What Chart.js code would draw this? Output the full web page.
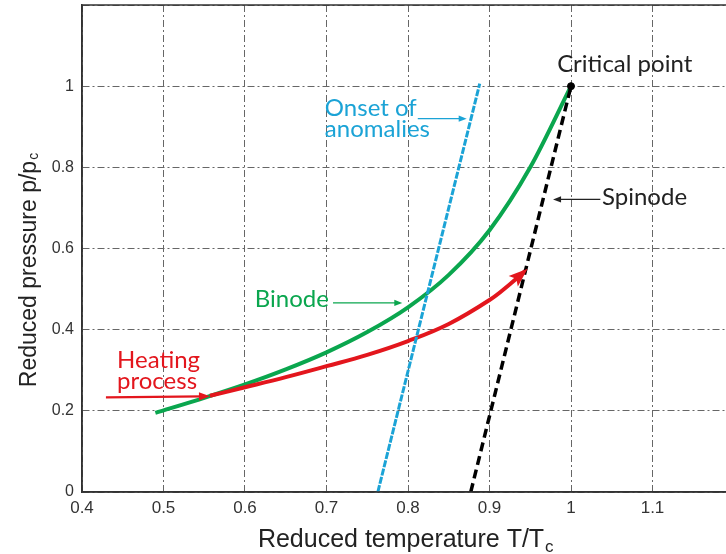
<!DOCTYPE html>
<html>
<head>
<meta charset="utf-8">
<script src="https://cdn.jsdelivr.net/npm/chart.js@4/dist/chart.umd.min.js"></script>
<style>
  html, body { margin: 0; padding: 0; background: #fff; overflow: hidden; }
  #wrap { width: 740px; height: 554px; }
</style>
</head>
<body>
<div id="wrap"><canvas id="phaseChart" width="740" height="554"></canvas></div>
<script>
// tick labels
const xTicks = [0.4, 0.5, 0.6, 0.7, 0.8, 0.9, 1, 1.1];
const yTicks = [0, 0.2, 0.4, 0.6, 0.8, 1];

// binode (green)
const binodeT = [0.49, 0.55, 0.6, 0.65, 0.7, 0.75, 0.8, 0.85, 0.9, 0.95, 1.0];
const binodeP = [0.195, 0.232, 0.265, 0.302, 0.344, 0.394, 0.455, 0.535, 0.645, 0.8, 1.0];

// heating process (red)
const heatT = [0.557, 0.6, 0.65, 0.7, 0.75, 0.8, 0.85, 0.9, 0.925, 0.944];
const heatP = [0.237, 0.258, 0.283, 0.31, 0.338, 0.372, 0.414, 0.473, 0.512, 0.545];

// onset of anomalies (blue)
const onsetT = [0.763, 0.888];
const onsetP = [0, 1.006];

// spinode (black dashed)
const spinodeT = [0.877, 1.0];
const spinodeP = [0, 1.0];

// critical point
const critT = [1.0];
const critP = [1.0];

// annotations: text, position in data units, arrows
const labels = [
  { lines: ['Critical point'], x: 0.983, y: 1.055, color: '#222' },
  { lines: ['Spinode'], x: 1.038, y: 0.726, color: '#222' },
  { lines: ['Onset of', 'anomalies'], x: 0.698, y: 0.945, color: '#1ba3d6' },
  { lines: ['Binode'], x: 0.612, y: 0.476, color: '#0aa64e' },
  { lines: ['Heating', 'process'], x: 0.443, y: 0.324, color: '#e3161d' }
];
const arrows = [
  { from: [1.036, 0.721], to: [0.978, 0.721], color: '#222', width: 1.2, head: 8 },
  { from: [0.812, 0.92], to: [0.872, 0.92], color: '#1ba3d6', width: 1.4, head: 8 },
  { from: [0.708, 0.466], to: [0.793, 0.466], color: '#0aa64e', width: 1.4, head: 8 },
  { from: [0.4294, 0.233], to: [0.557, 0.236], color: '#e3161d', width: 2.2, head: 11 }
];

const toXY = (xs, ys) => xs.map((x, i) => ({ x: x, y: ys[i] }));

const nearest = (arr, v) => arr.find(t => Math.abs(t - v) < 1e-6);

const framePlugin = {
  id: 'frame',
  afterDatasetsDraw(chart) {
    const { ctx, chartArea, scales } = chart;
    const sx = v => scales.x.getPixelForValue(v);
    const sy = v => scales.y.getPixelForValue(v);

    // box around plot
    ctx.save();
    ctx.strokeStyle = '#333';
    ctx.lineWidth = 1.5;
    ctx.strokeRect(chartArea.left, chartArea.top, chartArea.right - chartArea.left, chartArea.bottom - chartArea.top);

    // red arrowhead at end of heating curve
    const n = heatT.length;
    const ex = sx(heatT[n - 1]), ey = sy(heatP[n - 1]);
    const px = sx(heatT[n - 2]), py = sy(heatP[n - 2]);
    let a = Math.atan2(ey - py, ex - px);
    ctx.fillStyle = '#e3161d';
    ctx.beginPath();
    ctx.moveTo(ex + 3 * Math.cos(a), ey + 3 * Math.sin(a));
    ctx.lineTo(ex - 16 * Math.cos(a) + 7 * Math.sin(a), ey - 16 * Math.sin(a) - 7 * Math.cos(a));
    ctx.lineTo(ex - 12 * Math.cos(a), ey - 12 * Math.sin(a));
    ctx.lineTo(ex - 16 * Math.cos(a) - 7 * Math.sin(a), ey - 16 * Math.sin(a) + 7 * Math.cos(a));
    ctx.closePath();
    ctx.fill();

    // annotation arrows
    arrows.forEach(ar => {
      const x1 = sx(ar.from[0]), y1 = sy(ar.from[1]);
      const x2 = sx(ar.to[0]), y2 = sy(ar.to[1]);
      const ang = Math.atan2(y2 - y1, x2 - x1);
      ctx.strokeStyle = ar.color;
      ctx.fillStyle = ar.color;
      ctx.lineWidth = ar.width;
      ctx.beginPath();
      ctx.moveTo(x1, y1);
      ctx.lineTo(x2 - ar.head * 0.6 * Math.cos(ang), y2 - ar.head * 0.6 * Math.sin(ang));
      ctx.stroke();
      const h = ar.head, w = ar.head * 0.38;
      ctx.beginPath();
      ctx.moveTo(x2, y2);
      ctx.lineTo(x2 - h * Math.cos(ang) + w * Math.sin(ang), y2 - h * Math.sin(ang) - w * Math.cos(ang));
      ctx.lineTo(x2 - h * Math.cos(ang) - w * Math.sin(ang), y2 - h * Math.sin(ang) + w * Math.cos(ang));
      ctx.closePath();
      ctx.fill();
    });

    // annotation text
    ctx.font = '24px Lato, "DejaVu Sans", sans-serif';
    ctx.textBaseline = 'middle';
    ctx.textAlign = 'left';
    labels.forEach(lb => {
      ctx.fillStyle = lb.color;
      lb.lines.forEach((t, i) => {
        ctx.fillText(t, sx(lb.x), sy(lb.y) + i * 21);
      });
    });

    // axis titles with subscript
    ctx.fillStyle = '#222';
    ctx.textAlign = 'left';
    ctx.textBaseline = 'alphabetic';
    const xt = 'Reduced temperature T/T';
    ctx.font = '25px "Liberation Sans Narrow", sans-serif';
    const xw = ctx.measureText(xt).width;
    const xcx = 406;
    ctx.fillText(xt, xcx - xw / 2 - 5, 547);
    ctx.font = '17px "Liberation Sans Narrow", sans-serif';
    ctx.fillText('c', xcx + xw / 2 - 4, 552);

    ctx.translate(36, 270);
    ctx.rotate(-Math.PI / 2);
    const yt = 'Reduced pressure p/p';
    ctx.font = '23px "Liberation Sans", sans-serif';
    const yw = ctx.measureText(yt).width;
    ctx.fillText(yt, -yw / 2 - 4, 0);
    ctx.font = '14px "Liberation Sans", sans-serif';
    ctx.fillText('c', yw / 2 - 3, 2);
    ctx.restore();
  }
};

new Chart(document.getElementById('phaseChart'), {
  type: 'scatter',
  data: {
    datasets: [
      { label: 'Critical point', data: toXY(critT, critP), pointRadius: 3.5, backgroundColor: '#000', borderColor: '#000', showLine: false, order: 0 },
      { label: 'Spinode', data: toXY(spinodeT, spinodeP), showLine: true, borderColor: '#000', borderWidth: 3.5, borderDash: [9, 5], pointRadius: 0, order: 1 },
      { label: 'Onset', data: toXY(onsetT, onsetP), showLine: true, borderColor: '#1ba3d6', borderWidth: 3, borderDash: [7, 1.5], pointRadius: 0, order: 2 },
      { label: 'Heating', data: toXY(heatT, heatP), showLine: true, borderColor: '#e3161d', borderWidth: 4, tension: 0.4, pointRadius: 0, order: 3 },
      { label: 'Binode', data: toXY(binodeT, binodeP), showLine: true, borderColor: '#0aa64e', borderWidth: 4, cubicInterpolationMode: 'monotone', pointRadius: 0, order: 4 }
    ]
  },
  options: {
    responsive: false,
    animation: false,
    layout: { padding: { top: 4, right: 6, left: 0, bottom: 0 } },
    plugins: { legend: { display: false }, tooltip: { enabled: false } },
    scales: {
      x: {
        type: 'linear', min: 0.4, max: 1.2,
        afterFit: s => { s.height = 62; s.paddingLeft = 0; s.paddingRight = 0; },
        ticks: {
          stepSize: 0.1, padding: 6, color: '#333',
          font: { family: '"Liberation Sans Narrow", sans-serif', size: 17 },
          callback: v => { const t = nearest(xTicks, v); return t === undefined ? '' : String(t); }
        },
        grid: { color: '#666', lineWidth: 1, drawTicks: false },
        border: { display: true, color: '#333', width: 1.5, dash: [7, 3, 2, 3] }
      },
      y: {
        type: 'linear', min: 0, max: 1.2,
        afterFit: s => { s.width = 82; s.paddingTop = 0; s.paddingBottom = 0; },
        ticks: {
          stepSize: 0.2, padding: 8, color: '#333',
          font: { family: '"Liberation Sans", sans-serif', size: 16 },
          callback: v => { const t = nearest(yTicks, v); return t === undefined ? '' : String(t); }
        },
        grid: { color: '#666', lineWidth: 1, drawTicks: false },
        border: { display: true, color: '#333', width: 1.5, dash: [7, 3, 2, 3] }
      }
    }
  },
  plugins: [framePlugin]
});
</script>
</body>
</html>
